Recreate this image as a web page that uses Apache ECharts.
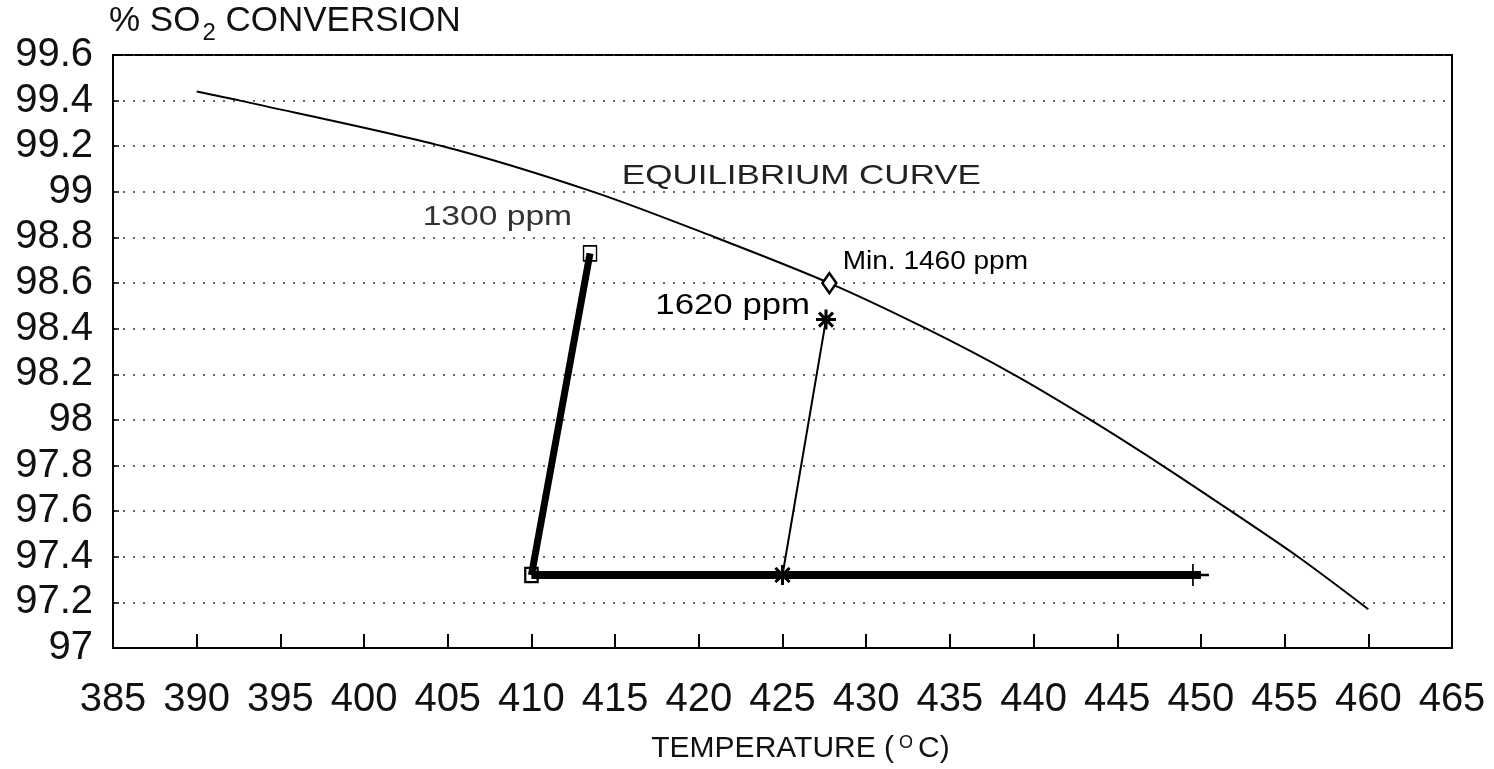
<!DOCTYPE html>
<html><head><meta charset="utf-8">
<script src="https://cdn.jsdelivr.net/npm/echarts@6/dist/echarts.min.js"></script>
<style>html,body{margin:0;padding:0;background:#fff}#c{width:1494px;height:769px}</style>
</head><body><div id="c"></div>
<script>
// ---- data ----
const xRange = [385, 465];           // temperature axis (°C), tick step 5
const yRange = [97, 99.6];           // % SO2 conversion, tick step 0.2
const curveX = [390, 392.6, 404.7, 413.7, 421.0, 427.8, 433.6, 438.8, 443.4, 447.7, 451.8, 455.8, 460];
const curveY = [99.44, 99.40, 99.20, 99.00, 98.80, 98.60, 98.40, 98.20, 98.00, 97.80, 97.60, 97.40, 97.17];
const ppm1300X = [410, 413.5];
const ppm1300Y = [97.32, 98.73];
const baseX = [410, 425, 450];
const baseY = [97.32, 97.32, 97.32];
const ppm1620X = [425, 427.6];
const ppm1620Y = [97.32, 98.44];
const minX = [427.8];
const minY = [98.6];
const labelTexts = ['EQUILIBRIUM CURVE', '1300 ppm', 'Min. 1460 ppm', '1620 ppm'];
const labelX = [415.4, 403.5, 428.6, 417.4];
const labelY = [99.067, 98.89, 98.69, 98.50];

const FONT = 'Liberation Sans';
const zip = (xs, ys) => xs.map((x, i) => [x, ys[i]]);
const ASTER = 'path://M10,0 L10,20 M0,10 L20,10 M3,3 L17,17 M3,17 L17,3';
const PLUS = 'path://M10,0 L10,20 M10,10 L20,10';
const BOX = 'path://M0,0 L14,0 L14,16 L0,16 Z';

const chart = echarts.init(document.getElementById('c'));
chart.setOption({
  animation: false,
  backgroundColor: '#fff',
  textStyle: { fontFamily: FONT, color: '#000' },
  grid: { left: 113, right: 42, top: 55, bottom: 119, show: true, borderColor: '#000', borderWidth: 2, backgroundColor: 'transparent' },
  xAxis: {
    type: 'value', min: xRange[0], max: xRange[1], interval: 5,
    axisLine: { show: true, lineStyle: { color: '#000', width: 2 } },
    axisTick: { show: true, inside: true, length: 14, lineStyle: { color: '#000', width: 2 } },
    axisLabel: { fontSize: 40, color: '#111', margin: 32, fontFamily: FONT, showMinLabel: true, showMaxLabel: true },
    splitLine: { show: false },
    name: '{a|TEMPERATURE (}{s|O}{a|C)}',
    nameLocation: 'middle', nameGap: 86,
    nameTextStyle: { padding: [0, 0, 0, 36], rich: {
      a: { fontSize: 30, fontFamily: FONT, color: '#111' },
      s: { fontSize: 18, fontFamily: FONT, color: '#111', verticalAlign: 'top', padding: [0, 5, 12, 5] }
    } }
  },
  yAxis: {
    type: 'value', min: yRange[0], max: yRange[1], interval: 0.2,
    axisLine: { show: true, lineStyle: { color: '#000', width: 2 } },
    axisTick: { show: true, inside: true, length: 6, lineStyle: { color: '#000', width: 1.5 } },
    axisLabel: { fontSize: 40, color: '#111', margin: 20, fontFamily: FONT, showMinLabel: true, showMaxLabel: true },
    splitLine: { show: true, lineStyle: { color: '#333', width: 1.5, type: [2, 8] } },
    name: '{a|% SO}{s|2}{a| CONVERSION}',
    nameLocation: 'end', nameGap: 10,
    nameTextStyle: { align: 'left', padding: [0, 0, 0, -4], rich: {
      a: { fontSize: 35, fontFamily: FONT, color: '#111' },
      s: { fontSize: 24, fontFamily: FONT, color: '#111', padding: [24, 0, 0, 2] }
    } }
  },
  series: [
    { type: 'line', data: zip(curveX, curveY), smooth: 0.3, showSymbol: false,
      lineStyle: { color: '#000', width: 2 }, z: 2 },
    { type: 'line', data: zip(baseX, baseY).map((p, i) => ({ value: p,
        symbol: i === 0 ? BOX : (i === 1 ? ASTER : PLUS),
        symbolSize: i === 0 ? [12, 14] : (i === 1 ? 20 : [16, 22]) })),
      lineStyle: { color: '#000', width: 8 }, showAllSymbol: true,
      itemStyle: { color: 'transparent', borderColor: '#000', borderWidth: 2 }, z: 3 },
    { type: 'line', data: zip(ppm1300X, ppm1300Y), symbol: BOX, symbolSize: [13, 15],
      lineStyle: { color: '#000', width: 7 },
      itemStyle: { color: 'transparent', borderColor: '#000', borderWidth: 1.5 }, z: 3 },
    { type: 'line', data: zip(ppm1620X, ppm1620Y), symbol: ASTER, symbolSize: 20,
      lineStyle: { color: '#000', width: 2 },
      itemStyle: { color: 'transparent', borderColor: '#000', borderWidth: 3 }, z: 4 },
    { type: 'scatter', data: zip(minX, minY), symbol: 'diamond', symbolSize: [14, 20],
      itemStyle: { color: '#fff', borderColor: '#000', borderWidth: 2.5, opacity: 1 }, z: 5 }
  ]
});

const styles = [
  { fontSize: 28, scaleX: 1.25, fill: '#222' },
  { fontSize: 28, scaleX: 1.2, fill: '#333' },
  { fontSize: 25, scaleX: 1.12, fill: '#000' },
  { fontSize: 29, scaleX: 1.2, fill: '#000' }
];
chart.setOption({
  graphic: labelTexts.map((t, i) => {
    const p = chart.convertToPixel({ gridIndex: 0 }, [labelX[i], labelY[i]]);
    return { type: 'text', x: p[0], y: p[1], scaleX: styles[i].scaleX,
      style: { text: t, fontSize: styles[i].fontSize, fontFamily: FONT, fill: styles[i].fill,
        textAlign: 'left', textVerticalAlign: 'middle' }, z: 10 };
  })
});
</script></body></html>
